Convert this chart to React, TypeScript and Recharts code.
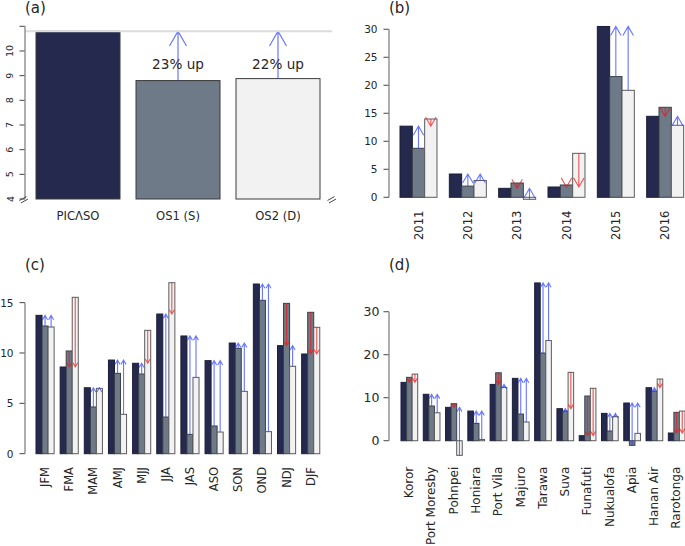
import React from 'react';
import { BarChart, Bar, XAxis, YAxis, Cell, ReferenceLine } from 'recharts';

const FONT = '"DejaVu Sans", Verdana, sans-serif';
const TEXT = '#262626';
const DARK = '#25294d';
const GRAY = '#6e7a88';
const LIGHT = '#f2f2f2';
const UP = 'rgba(45,65,255,0.72)';
const DOWN = 'rgba(235,25,25,0.72)';

// ---------- (a) ----------
const aCategories = ['PICΛSO', 'OS1 (S)', 'OS2 (D)'];
const aValues = [10.8, 8.8, 8.88];
const aChangeLabels = ['', '23% up', '22% up'];
const aTicks = [4, 5, 6, 7, 8, 9, 10, 11];
const aTickLabels = ['4', '5', '6', '7', '8', '9', '10', ''];
const aColors = [DARK, GRAY, LIGHT];

// ---------- (b) ----------
const bYears = ['2011', '2012', '2013', '2014', '2015', '2016'];
const bPicaso = [12.7, 4.16, 1.6, 1.84, 30.5, 14.46];
const bOS1 = [8.75, 2.0, 2.55, 2.2, 21.55, 16.07];
const bOS2 = [13.98, 3.0, -0.36, 7.85, 19.1, 12.86];
const bTicks = [0, 5, 10, 15, 20, 25, 30];

// ---------- (c) ----------
const cSeasons = ['JFM', 'FMA', 'MAM', 'AMJ', 'MJJ', 'JJA', 'JAS', 'ASO', 'SON', 'OND', 'NDJ', 'DJF'];
const cPicaso = [13.74, 8.61, 6.55, 9.3, 8.98, 13.87, 11.69, 9.24, 10.99, 16.85, 10.73, 9.9];
const cOS1 = [12.68, 10.2, 4.64, 7.98, 7.91, 3.64, 1.92, 2.75, 10.46, 15.23, 14.93, 14.04];
const cOS2 = [12.58, 15.53, 6.49, 3.91, 12.25, 16.98, 7.58, 2.15, 6.19, 2.19, 8.68, 12.55];
const cTicks = [0, 5, 10, 15];

// ---------- (d) ----------
const dStations = ['Koror', 'Port Moresby', 'Pohnpei', 'Honiara', 'Port Vila', 'Majuro', 'Tarawa', 'Suva', 'Funafuti', 'Nukualofa', 'Apia', 'Hanan Air', 'Rarotonga'];
const dPicaso = [13.57, 10.8, 7.77, 6.9, 13.1, 14.5, 36.7, 7.45, 1.17, 6.36, 8.77, 12.33, 1.79];
const dOS1 = [14.74, 8.07, 8.6, 4.04, 15.8, 6.2, 20.4, 6.9, 10.4, 2.26, -1.07, 11.56, 6.6];
const dOS2 = [15.5, 6.5, -3.4, 0.3, 12.4, 4.35, 23.3, 15.9, 12.2, 5.6, 1.71, 14.35, 6.9];
const dTicks = [0, 10, 20, 30];

interface Geo {
  left: number; top: number; width: number; height: number;
  axisX: number; plotTop: number; plotBottom: number; plotRight: number;
  bandStart: number; bandEnd: number; domain: [number, number]; barSize: number;
}

const geoA: Geo = { left: 0, top: 0, width: 340, height: 240, axisX: 25, plotTop: 26.3, plotBottom: 199, plotRight: 332, bandStart: 28, bandEnd: 328, domain: [4, 11], barSize: 84 };
const geoB: Geo = { left: 340, top: 0, width: 350, height: 250, axisX: 389, plotTop: 25.9, plotBottom: 200.1, plotRight: 690, bandStart: 394, bandEnd: 690, domain: [-0.5, 30.6], barSize: 12.33 };
const geoC: Geo = { left: 0, top: 250, width: 340, height: 296, axisX: 25, plotTop: 282.5, plotBottom: 453.7, plotRight: 322.8, bandStart: 33, bandEnd: 322.8, domain: [0, 17], barSize: 6.04 };
const geoD: Geo = { left: 340, top: 250, width: 350, height: 296, axisX: 389, plotTop: 282.5, plotBottom: 456.2, plotRight: 688, bandStart: 398, bandEnd: 687.6, domain: [-3.6, 36.8], barSize: 5.57 };

const ppu = (g: Geo) => (g.plotBottom - g.plotTop) / (g.domain[1] - g.domain[0]);

function arrowPath(cx: number, yFrom: number, yTo: number, headLen: number, width: number) {
  const up = yTo < yFrom;
  const back = up ? 1 : -1;
  const hx = headLen * 0.5;
  const hy = headLen * 0.866;
  return (
    <path
      d={`M${cx},${yFrom}L${cx},${yTo}M${cx - hx},${yTo + back * hy}L${cx},${yTo}L${cx + hx},${yTo + back * hy}`}
      stroke={up ? UP : DOWN}
      strokeWidth={width}
      fill="none"
    />
  );
}

function makeShape(opts: { fill: string; stroke: string; valueKey?: string; refKey?: string; base: number; headLen: number }) {
  return (props: any) => {
    const { x, y, width, height, payload } = props;
    const fill = opts.fill || props.fill;
    const top = Math.min(y, y + height);
    const h = Math.abs(height);
    let arrow: React.ReactNode = null;
    if (opts.refKey && opts.valueKey) {
      const v = payload[opts.valueKey];
      const p = payload[opts.refKey];
      if (v !== opts.base && p !== v) {
        const yBase = y + height;
        const k = height / (v - opts.base);
        const yp = yBase - (p - opts.base) * k;
        arrow = arrowPath(x + width / 2, y, yp, opts.headLen, 1.1);
      }
    }
    return (
      <g>
        <rect x={x} y={top} width={width} height={h} fill={fill} stroke={opts.stroke} strokeWidth={1} />
        {arrow}
      </g>
    );
  };
}

const aShape = (props: any) => {
  const { x, y, width, height, payload, fill } = props;
  const top = Math.min(y, y + height);
  const h = Math.abs(height);
  const base = geoA.domain[0];
  let extra: React.ReactNode = null;
  if (payload.label) {
    const yBase = y + height;
    const k = height / (payload.value - base);
    const yp = yBase - (payload.ref - base) * k;
    const cx = x + width / 2;
    extra = (
      <g>
        {arrowPath(cx, y, yp, 17, 1.2)}
        <text x={cx} y={yp + 38} textAnchor="middle" fontSize={13.6} fill={TEXT} fontFamily={FONT}>
          {payload.label}
        </text>
      </g>
    );
  }
  return (
    <g>
      <rect x={x} y={top} width={width} height={h} fill={fill} stroke="#3a3a3a" strokeWidth={1} />
      {extra}
    </g>
  );
};

function makeYTick(ticks: number[], labels: string[] | null, scale: number, o: { fontSize: number; gap: number; rotate?: boolean }) {
  return (props: any) => {
    const { x, y, payload } = props;
    const v = payload.value;
    const i = ticks.indexOf(v);
    const last = ticks[ticks.length - 1];
    const label = labels && i >= 0 ? labels[i] : String(v);
    const tx = x - o.gap;
    return (
      <g>
        <line x1={x - 5.5} x2={x} y1={y} y2={y} stroke="#444" strokeWidth={1} />
        {v === last && (
          <line x1={x} x2={x} y1={y} y2={y + (last - ticks[0]) * scale} stroke="#8c8c8c" strokeWidth={1.4} />
        )}
        {o.rotate ? (
          <text x={tx} y={y} transform={`rotate(-90 ${tx} ${y})`} textAnchor="middle" dominantBaseline="central" fontSize={o.fontSize} fill={TEXT} fontFamily={FONT}>
            {label}
          </text>
        ) : (
          <text x={tx} y={y} textAnchor="end" dominantBaseline="central" fontSize={o.fontSize} fill={TEXT} fontFamily={FONT}>
            {label}
          </text>
        )}
      </g>
    );
  };
}

function makeXTick(o: { offset: number; fontSize: number; rotate: boolean }) {
  return (props: any) => {
    const { x, y, payload } = props;
    const ty = y + o.offset;
    if (o.rotate) {
      return (
        <text x={x} y={ty} transform={`rotate(-90 ${x} ${ty})`} textAnchor="end" dominantBaseline="central" fontSize={o.fontSize} fill={TEXT} fontFamily={FONT}>
          {payload.value}
        </text>
      );
    }
    return (
      <text x={x} y={ty} textAnchor="middle" fontSize={o.fontSize} fill={TEXT} fontFamily={FONT}>
        {payload.value}
      </text>
    );
  };
}

function frame(g: Geo) {
  return {
    chart: {
      width: g.width,
      height: g.height,
      margin: { top: g.plotTop - g.top, right: g.left + g.width - g.plotRight, bottom: 0, left: 0 },
    },
    yWidth: g.axisX - g.left,
    xHeight: g.top + g.height - g.plotBottom,
    xPadding: { left: g.bandStart - g.axisX, right: g.plotRight - g.bandEnd },
  };
}

const aData = aCategories.map((name, i) => ({ name, value: aValues[i], ref: aValues[0], label: aChangeLabels[i] }));
const bData = bYears.map((name, i) => ({ name, picaso: bPicaso[i], os1: bOS1[i], os2: bOS2[i] }));
const cData = cSeasons.map((name, i) => ({ name, picaso: cPicaso[i], os1: cOS1[i], os2: cOS2[i] }));
const dData = dStations.map((name, i) => ({ name, picaso: dPicaso[i], os1: dOS1[i], os2: dOS2[i] }));

function GroupPanel(props: { g: Geo; data: any[]; ticks: number[]; headLen: number; yFont: number; yGap: number; xFont: number; xOffset: number }) {
  const { g, data, ticks, headLen } = props;
  const f = frame(g);
  return (
    <div style={{ position: 'absolute', left: g.left, top: g.top, width: g.width, height: g.height }}>
      <BarChart {...f.chart} data={data} barGap={0} barSize={g.barSize}>
        <XAxis
          dataKey="name"
          type="category"
          height={f.xHeight}
          padding={f.xPadding}
          axisLine={false}
          tickLine={false}
          tickSize={0}
          tickMargin={0}
          interval={0}
          tick={makeXTick({ offset: props.xOffset, fontSize: props.xFont, rotate: true })}
        />
        <YAxis
          type="number"
          width={f.yWidth}
          domain={g.domain}
          ticks={ticks}
          interval={0}
          axisLine={false}
          tickLine={false}
          tickSize={0}
          tickMargin={0}
          tick={makeYTick(ticks, null, ppu(g), { fontSize: props.yFont, gap: props.yGap })}
        />
        <Bar dataKey="picaso" isAnimationActive={false} shape={makeShape({ fill: DARK, stroke: '#1b1e38', base: 0, headLen })} />
        <Bar dataKey="os1" isAnimationActive={false} shape={makeShape({ fill: GRAY, stroke: '#3b404a', valueKey: 'os1', refKey: 'picaso', base: 0, headLen })} />
        <Bar dataKey="os2" isAnimationActive={false} shape={makeShape({ fill: LIGHT, stroke: '#5c5c5c', valueKey: 'os2', refKey: 'picaso', base: 0, headLen })} />
      </BarChart>
    </div>
  );
}

export default function App() {
  const fa = frame(geoA);
  return (
    <div style={{ position: 'absolute', left: 0, top: 0, width: 685, height: 546, overflow: 'hidden', background: '#fff', fontFamily: FONT }}>
      <div style={{ position: 'absolute', left: geoA.left, top: geoA.top, width: geoA.width, height: geoA.height }}>
        <BarChart {...fa.chart} data={aData} barSize={geoA.barSize}>
          <XAxis
            dataKey="name"
            type="category"
            height={fa.xHeight}
            padding={fa.xPadding}
            axisLine={false}
            tickLine={false}
            tickSize={0}
            tickMargin={0}
            interval={0}
            tick={makeXTick({ offset: 21, fontSize: 11.6, rotate: false })}
          />
          <YAxis
            type="number"
            width={fa.yWidth}
            domain={geoA.domain}
            ticks={aTicks}
            interval={0}
            axisLine={false}
            tickLine={false}
            tickSize={0}
            tickMargin={0}
            tick={makeYTick(aTicks, aTickLabels, ppu(geoA), { fontSize: 9.5, gap: 15, rotate: true })}
          />
          <ReferenceLine y={aValues[0]} stroke="#dcdcdc" strokeWidth={2} />
          <Bar dataKey="value" isAnimationActive={false} shape={aShape}>
            {aData.map((d, i) => (
              <Cell key={d.name} fill={aColors[i]} />
            ))}
          </Bar>
        </BarChart>
      </div>

      <GroupPanel g={geoB} data={bData} ticks={bTicks} headLen={10.5} yFont={10.5} yGap={11.5} xFont={11.5} xOffset={10.6} />
      <GroupPanel g={geoC} data={cData} ticks={cTicks} headLen={5} yFont={10.5} yGap={11.5} xFont={11.5} xOffset={13.3} />
      <GroupPanel g={geoD} data={dData} ticks={dTicks} headLen={5} yFont={12.5} yGap={9.5} xFont={12} xOffset={10.5} />

      <svg width={685} height={546} style={{ position: 'absolute', left: 0, top: 0, pointerEvents: 'none' }}>
        <g stroke="#444" strokeWidth={1}>
          <line x1={19.5} y1={200.5} x2={26.5} y2={196.5} />
          <line x1={21} y1={203} x2={28} y2={199} />
          <line x1={327.5} y1={200.5} x2={334.5} y2={196.5} />
          <line x1={329} y1={203} x2={336} y2={199} />
        </g>
        <g fontFamily={FONT} fontSize={15} fill={TEXT}>
          <text x={25} y={13}>(a)</text>
          <text x={389} y={13}>(b)</text>
          <text x={25} y={270}>(c)</text>
          <text x={389} y={270}>(d)</text>
        </g>
      </svg>
    </div>
  );
}
